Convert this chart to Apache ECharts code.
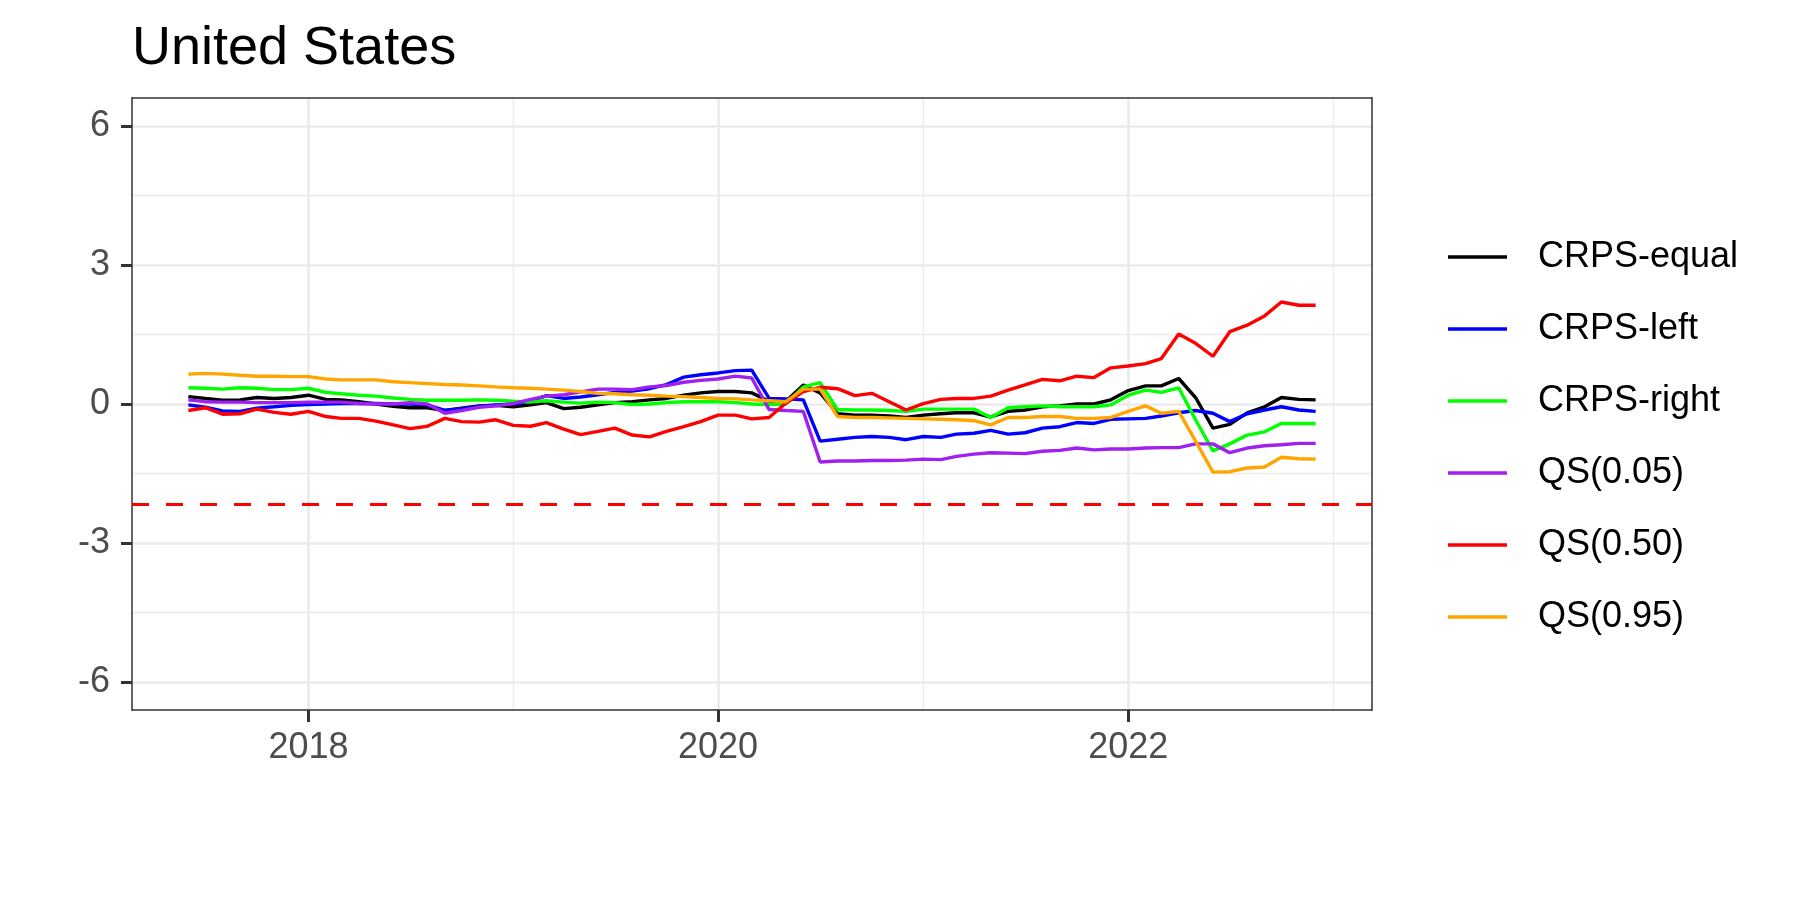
<!DOCTYPE html>
<html>
<head>
<meta charset="utf-8">
<title>United States</title>
<script src="https://cdn.jsdelivr.net/npm/echarts@6/dist/echarts.min.js"></script>
<style>
  html, body { margin: 0; padding: 0; background: #fff; }
  #chart { width: 1800px; height: 900px; }
</style>
</head>
<body>
<div id="chart"></div>
<script>
// monthly dates, 2017-06 .. 2022-12
const months = [];
for (let y = 2017, m = 6; y < 2023; ) {
    months.push(y + '-' + String(m).padStart(2, '0') + '-01');
    m++;
    if (m > 12) { m = 1; y++; }
}

const crpsEqual = [
    0.16, 0.12, 0.08, 0.09, 0.14, 0.12, 0.14, 0.19, 0.10, 0.09, 0.05, 0.00, -0.05, -0.08, -0.08, -0.14,
    -0.09, -0.04, -0.03, -0.06, -0.02, 0.03, -0.10, -0.07, -0.02, 0.03, 0.05, 0.09, 0.12, 0.19, 0.24, 0.27,
    0.27, 0.24, 0.06, 0.06, 0.41, 0.24, -0.21, -0.24, -0.24, -0.26, -0.29, -0.24, -0.21, -0.19, -0.19, -0.28,
    -0.16, -0.13, -0.06, -0.04, 0.00, 0.00, 0.09, 0.29, 0.39, 0.39, 0.55, 0.14, -0.52, -0.44, -0.19, -0.06,
    0.14, 0.10, 0.09
];
const crpsLeft = [
    -0.02, -0.07, -0.15, -0.16, -0.09, -0.06, -0.03, -0.01, 0.00, 0.01, 0.01, 0.01, 0.00, 0.00, -0.02, -0.14,
    -0.10, -0.05, -0.02, 0.00, 0.06, 0.18, 0.12, 0.15, 0.20, 0.25, 0.28, 0.33, 0.42, 0.58, 0.63, 0.67,
    0.72, 0.73, 0.12, 0.11, 0.09, -0.80, -0.76, -0.72, -0.70, -0.72, -0.77, -0.70, -0.72, -0.65, -0.63, -0.57,
    -0.65, -0.62, -0.52, -0.49, -0.40, -0.42, -0.33, -0.32, -0.31, -0.26, -0.19, -0.14, -0.20, -0.38, -0.21, -0.13,
    -0.06, -0.13, -0.16
];
const crpsRight = [
    0.35, 0.34, 0.32, 0.35, 0.34, 0.31, 0.31, 0.34, 0.25, 0.22, 0.19, 0.17, 0.13, 0.10, 0.08, 0.08,
    0.08, 0.09, 0.08, 0.06, 0.05, 0.07, 0.04, 0.02, 0.04, 0.03, -0.01, 0.00, 0.03, 0.05, 0.05, 0.05,
    0.03, 0.00, -0.01, 0.00, 0.37, 0.46, -0.12, -0.13, -0.13, -0.14, -0.16, -0.11, -0.11, -0.11, -0.11, -0.29,
    -0.08, -0.06, -0.04, -0.06, -0.06, -0.06, -0.02, 0.19, 0.30, 0.25, 0.35, -0.34, -1.01, -0.86, -0.67, -0.60,
    -0.42, -0.42, -0.42
];
const qs05 = [
    0.09, 0.05, 0.04, 0.04, 0.03, 0.03, 0.03, 0.04, 0.04, 0.04, 0.01, 0.00, 0.00, 0.03, 0.00, -0.20,
    -0.14, -0.07, -0.04, 0.01, 0.10, 0.17, 0.20, 0.26, 0.32, 0.32, 0.31, 0.37, 0.40, 0.47, 0.51, 0.54,
    0.60, 0.56, -0.12, -0.14, -0.16, -1.25, -1.23, -1.23, -1.22, -1.22, -1.21, -1.19, -1.20, -1.13, -1.08, -1.05,
    -1.06, -1.07, -1.02, -1.00, -0.95, -0.99, -0.97, -0.97, -0.95, -0.94, -0.94, -0.86, -0.86, -1.05, -0.95, -0.90,
    -0.88, -0.85, -0.85
];
const qs50 = [
    -0.14, -0.08, -0.22, -0.21, -0.11, -0.18, -0.22, -0.16, -0.27, -0.31, -0.31, -0.37, -0.45, -0.53, -0.48, -0.31,
    -0.38, -0.39, -0.34, -0.46, -0.48, -0.40, -0.54, -0.66, -0.59, -0.52, -0.67, -0.71, -0.59, -0.49, -0.38, -0.24,
    -0.24, -0.32, -0.29, 0.02, 0.27, 0.36, 0.33, 0.18, 0.23, 0.05, -0.13, 0.01, 0.10, 0.12, 0.12, 0.17,
    0.30, 0.41, 0.53, 0.50, 0.60, 0.57, 0.78, 0.82, 0.87, 0.98, 1.51, 1.31, 1.03, 1.56, 1.70, 1.90,
    2.20, 2.13, 2.13
];
const qs95 = [
    0.645, 0.66, 0.645, 0.62, 0.60, 0.60, 0.59, 0.59, 0.54, 0.52, 0.52, 0.52, 0.48, 0.46, 0.44, 0.42,
    0.41, 0.39, 0.37, 0.35, 0.34, 0.32, 0.30, 0.27, 0.23, 0.22, 0.20, 0.19, 0.17, 0.16, 0.14, 0.12,
    0.11, 0.09, 0.07, 0.05, 0.32, 0.32, -0.27, -0.29, -0.29, -0.30, -0.31, -0.32, -0.33, -0.34, -0.36, -0.45,
    -0.29, -0.29, -0.27, -0.27, -0.31, -0.31, -0.29, -0.16, -0.04, -0.20, -0.16, -0.80, -1.47, -1.46, -1.38, -1.36,
    -1.15, -1.18, -1.19
];

const seriesNames = ['CRPS-equal', 'CRPS-left', 'CRPS-right', 'QS(0.05)', 'QS(0.50)', 'QS(0.95)'];
const seriesValues = [crpsEqual, crpsLeft, crpsRight, qs05, qs50, qs95];
const seriesColors = ['#000000', '#0000FF', '#00FF00', '#A020F0', '#FF0000', '#FFA500'];

const refLine = -2.17;
const yBreaks = [-6, -3, 0, 3, 6];
const yMinor = [-4.5, -1.5, 1.5, 4.5];
const xBreaks = ['2018-01-01', '2020-01-01', '2022-01-01'];
const xMinor = ['2019-01-01', '2021-01-01', '2023-01-01'];

const FONT = "'Liberation Sans', Arial, Helvetica, sans-serif";
const ts = d => +new Date(d + 'T00:00:00');

// ggplot-like 5% expansion of the date range
const t0 = ts(months[0]), t1 = ts(months[months.length - 1]);
const xMin = t0 - 0.05 * (t1 - t0), xMax = t1 + 0.05 * (t1 - t0);

const chart = echarts.init(document.getElementById('chart'), null, { renderer: 'canvas' });

const series = seriesNames.map((name, k) => ({
    name,
    type: 'line',
    data: months.map((d, i) => [ts(d), seriesValues[k][i]]),
    showSymbol: false,
    symbol: 'none',
    color: seriesColors[k],
    itemStyle: { color: seriesColors[k] },
    lineStyle: { color: seriesColors[k], width: 3.4 },
    z: 3 + k
}));

series[0].markLine = {
    silent: true,
    symbol: ['none', 'none'],
    label: { show: false },
    lineStyle: { color: '#FF0000', type: [17, 17], width: 3 },
    data: [{ yAxis: refLine }]
};

const axisText = { color: '#4D4D4D', fontSize: 36, fontFamily: FONT };
// panel frame is drawn by the four axis lines
const frame = { show: true, onZero: false, lineStyle: { color: '#333333', width: 1.5 } };
const tickStyle = { color: '#333333', width: 3 };

chart.setOption({
    animation: false,
    backgroundColor: '#ffffff',
    title: {
        text: 'United States',
        left: 132,
        top: 22,
        padding: 0,
        textStyle: { fontSize: 54, fontWeight: 'normal', color: '#000000', fontFamily: FONT }
    },
    legend: {
        data: seriesNames,
        orient: 'vertical',
        left: 1448,
        top: 239,
        padding: 0,
        itemGap: 36,
        itemWidth: 59,
        itemHeight: 3.4,
        icon: 'rect',
        textStyle: { fontSize: 36, color: '#000000', fontFamily: FONT, lineHeight: 36, padding: [0, 0, 0, 26] }
    },
    grid: {
        left: 132,
        top: 98,
        right: 428,
        bottom: 190,
        show: false
    },
    xAxis: [
        {
            type: 'value',
            min: xMin,
            max: xMax,
            position: 'bottom',
            axisLine: frame,
            axisTick: { show: true, inside: false, length: 12, customValues: xBreaks.map(ts),
                lineStyle: tickStyle },
            axisLabel: { show: true, customValues: xBreaks.map(ts), margin: 20, ...axisText,
                formatter: v => String(new Date(v).getFullYear()) },
            splitLine: { show: true, lineStyle: { color: '#EBEBEB', width: 2.7 } }
        },
        {
            type: 'value',
            min: xMin,
            max: xMax,
            position: 'top',
            axisLine: frame,
            axisTick: { show: false, customValues: xMinor.map(ts) },
            axisLabel: { show: false },
            splitLine: { show: true, lineStyle: { color: '#EBEBEB', width: 1.35 } }
        }
    ],
    yAxis: [
        {
            type: 'value',
            min: -6.6,
            max: 6.6,
            position: 'left',
            axisLine: frame,
            axisTick: { show: true, inside: false, length: 11, customValues: yBreaks,
                lineStyle: tickStyle },
            axisLabel: { customValues: yBreaks, margin: 22, ...axisText },
            splitLine: { show: true, lineStyle: { color: '#EBEBEB', width: 2.7 } }
        },
        {
            type: 'value',
            min: -6.6,
            max: 6.6,
            position: 'right',
            axisLine: frame,
            axisTick: { show: false, customValues: yMinor },
            axisLabel: { show: false },
            splitLine: { show: true, lineStyle: { color: '#EBEBEB', width: 1.35 } }
        }
    ],
    series
});
</script>
</body>
</html>
